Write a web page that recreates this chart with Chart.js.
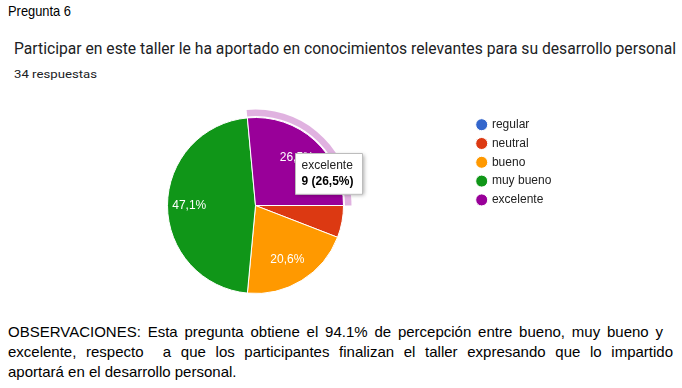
<!DOCTYPE html>
<html><head><meta charset="utf-8">
<script src="https://cdn.jsdelivr.net/npm/chart.js@4.4.1/dist/chart.umd.min.js"></script>
<style>
html,body{margin:0;padding:0;background:#fff;width:682px;height:388px;overflow:hidden;position:relative;}
.t{position:absolute;white-space:nowrap;transform-origin:0 0;}
#q{left:8px;top:3px;font:15px "Liberation Sans",Arial,sans-serif;line-height:15px;color:#000;}
#title{left:14px;top:40.5px;font:16px Roboto,"Liberation Sans",sans-serif;line-height:16px;color:#202124;}
#resp{left:14px;top:68.5px;font:11px Roboto,"Liberation Sans",sans-serif;line-height:11px;color:#202124;}
#obs{position:absolute;left:8px;top:322px;width:665px;font:15px "Liberation Sans",Arial,sans-serif;line-height:20px;color:#000;}
#obs div{text-align:justify;text-align-last:justify;white-space:nowrap;}
#obs div.l1{width:655px;}
#obs div.last{text-align-last:left;}
#c{position:absolute;left:0;top:0;}
</style></head><body>
<div id="q" class="t">Pregunta 6</div>
<div id="title" class="t">Participar en este taller le ha aportado en conocimientos relevantes para su desarrollo personal</div>
<div id="resp" class="t">34 respuestas</div>
<div id="obs">
<div class="l1">OBSERVACIONES: Esta pregunta obtiene el 94.1% de percepción entre bueno, muy bueno y</div>
<div>excelente, respecto&nbsp; a que los participantes finalizan el taller expresando que lo impartido</div>
<div class="last">aportará en el desarrollo personal.</div>
</div>
<canvas id="c" width="682" height="388"></canvas>
<script>
const categories = ['regular', 'neutral', 'bueno', 'muy bueno', 'excelente'];
const counts = [0, 2, 7, 16, 9];
const colors = ['#3366cc', '#dc3912', '#ff9900', '#109618', '#990099'];
const activeIndex = 4;

const total = counts.reduce((a, b) => a + b, 0);
const pctText = v => (v / total * 100).toFixed(1).replace('.', ',') + '%';

function fit(id, w) {
  const el = document.getElementById(id);
  const nw = el.getBoundingClientRect().width;
  el.style.transform = 'scaleX(' + (w / nw) + ')';
}
fit('q', 63);
fit('title', 662);
fit('resp', 83);

const haloPlugin = {
  id: 'halo',
  afterDatasetsDraw(chart) {
    const ctx = chart.ctx;
    chart.getActiveElements().forEach(a => {
      const p = a.element.getProps(['x', 'y', 'startAngle', 'endAngle', 'outerRadius'], true);
      ctx.save();
      ctx.beginPath();
      ctx.arc(p.x, p.y, p.outerRadius + 8, p.startAngle, p.endAngle);
      ctx.arc(p.x, p.y, p.outerRadius + 1.5, p.endAngle, p.startAngle, true);
      ctx.closePath();
      ctx.fillStyle = 'rgba(153,0,153,0.3)';
      ctx.fill();
      ctx.restore();
    });
  }
};

const sliceLabels = {
  id: 'sliceLabels',
  afterDatasetsDraw(chart) {
    const ctx = chart.ctx;
    const meta = chart.getDatasetMeta(0);
    ctx.save();
    ctx.fillStyle = '#ffffff';
    ctx.font = '12px "Liberation Sans", Arial, sans-serif';
    ctx.textAlign = 'center';
    ctx.textBaseline = 'middle';
    meta.data.forEach((el, i) => {
      const v = counts[i];
      if (v / total < 0.1) return;
      const p = el.getProps(['x', 'y', 'startAngle', 'endAngle', 'outerRadius'], true);
      const mid = (p.startAngle + p.endAngle) / 2;
      const r = p.outerRadius * 0.73;
      ctx.fillText(pctText(v), p.x + Math.cos(mid) * r - 2, p.y + Math.sin(mid) * r);
    });
    ctx.restore();
  }
};

const tooltipShadow = {
  id: 'tooltipShadow',
  beforeTooltipDraw(chart, args) {
    const t = args.tooltip;
    if (!t || !t.opacity) return;
    const ctx = chart.ctx;
    ctx.save();
    ctx.shadowColor = 'rgba(0,0,0,0.35)';
    ctx.shadowBlur = 4;
    ctx.shadowOffsetX = 1;
    ctx.shadowOffsetY = 1;
    ctx.fillStyle = '#ffffff';
    ctx.fillRect(t.x, t.y, t.width, t.height);
    ctx.restore();
  }
};

Chart.Tooltip.positioners.gform = function (items) {
  if (!items.length) return false;
  const el = items[0].element;
  return { x: el.x + 40, y: el.y - 52 };
};

const chart = new Chart(document.getElementById('c'), {
  type: 'pie',
  data: {
    labels: categories,
    datasets: [{
      data: counts,
      backgroundColor: colors,
      hoverBackgroundColor: colors,
      borderColor: '#ffffff',
      hoverBorderColor: '#ffffff',
      borderWidth: 1,
      hoverBorderWidth: 1,
      hoverOffset: 0,
      offset: 0,
      radius: 88,
      rotation: 90
    }]
  },
  options: {
    responsive: false,
    animation: false,
    events: [],
    devicePixelRatio: 1,
    layout: { padding: { left: 40.35, top: 111.9, bottom: 88.9, right: 0 } },
    plugins: {
      legend: {
        position: 'right',
        align: 'start',
        labels: {
          usePointStyle: true,
          pointStyle: 'circle',
          boxWidth: 8.5,
          boxHeight: 8.5,
          padding: 6.8,
          color: '#222222',
          font: { family: '"Liberation Sans", Arial, sans-serif', size: 12 }
        }
      },
      tooltip: {
        enabled: true,
        position: 'gform',
        xAlign: 'left',
        yAlign: 'top',
        caretSize: 0,
        caretPadding: 0,
        cornerRadius: 0,
        backgroundColor: '#ffffff',
        borderColor: '#bdbdbd',
        borderWidth: 1,
        titleColor: '#222222',
        bodyColor: '#000000',
        titleFont: { family: '"Liberation Sans", Arial, sans-serif', size: 12, weight: 'normal' },
        bodyFont: { family: '"Liberation Sans", Arial, sans-serif', size: 12, weight: 'bold' },
        padding: { left: 6, right: 9, top: 5, bottom: 5 },
        titleMarginBottom: 2,
        displayColors: false,
        callbacks: {
          title: items => items[0].label,
          label: item => counts[item.dataIndex] + ' (' + pctText(counts[item.dataIndex]) + ')'
        }
      }
    }
  },
  plugins: [haloPlugin, sliceLabels, tooltipShadow]
});

// place the legend so its first marker sits at x≈481.5
const legendLeft = 470.65;
chart.options.layout.padding.right = 682 - legendLeft - chart.legend.width;
chart.update();
chart.setActiveElements([{ datasetIndex: 0, index: activeIndex }]);
chart.tooltip.setActiveElements([{ datasetIndex: 0, index: activeIndex }], { x: 0, y: 0 });
chart.update();
</script>
</body></html>
